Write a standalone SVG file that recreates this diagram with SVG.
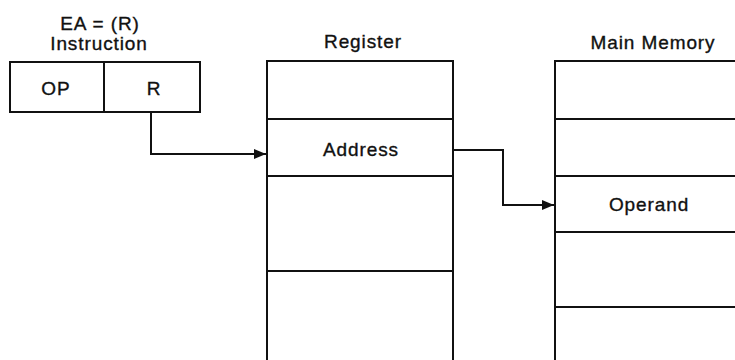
<svg xmlns="http://www.w3.org/2000/svg" width="735" height="360" viewBox="0 0 735 360">
  <style>
    .box { fill: none; stroke: #111; stroke-width: 2; }
    .wire { fill: none; stroke: #111; stroke-width: 2; }
    .lbl { font-family: "Liberation Sans", Arial, sans-serif; font-size: 19px; letter-spacing: 0.9px; fill: #111; stroke: #111; stroke-width: 0.35; text-anchor: middle; }
  </style>
  <defs>
    <marker id="arrow" viewBox="0 0 12 10" refX="12" refY="5" markerWidth="12" markerHeight="10" markerUnits="userSpaceOnUse" orient="auto">
      <path d="M0,0 L12,5 L0,10 Z" fill="#111"/>
    </marker>
  </defs>
  <rect width="735" height="360" fill="#fff"/>

  <g id="instruction">
    <text class="lbl" x="100" y="30">EA = (R)</text>
    <text class="lbl" x="99" y="50">Instruction</text>
    <rect class="box" x="10" y="62" width="190" height="50"/>
    <line class="box" x1="104" y1="62" x2="104" y2="112"/>
    <text class="lbl" x="56" y="95">OP</text>
    <text class="lbl" x="154" y="95">R</text>
  </g>

  <g id="register">
    <text class="lbl" x="363" y="48">Register</text>
    <path class="box" d="M267,361 V61 H453 V361"/>
    <line class="box" x1="267" y1="119" x2="453" y2="119"/>
    <line class="box" x1="267" y1="176" x2="453" y2="176"/>
    <line class="box" x1="267" y1="271" x2="453" y2="271"/>
    <text class="lbl" x="361" y="156">Address</text>
  </g>

  <g id="memory">
    <text class="lbl" x="653" y="49">Main Memory</text>
    <path class="box" d="M555,361 V61 H736"/>
    <line class="box" x1="555" y1="119" x2="736" y2="119"/>
    <line class="box" x1="555" y1="176" x2="736" y2="176"/>
    <line class="box" x1="555" y1="232" x2="736" y2="232"/>
    <line class="box" x1="555" y1="307" x2="736" y2="307"/>
    <text class="lbl" x="649" y="211">Operand</text>
  </g>

  <g id="connectors">
    <path class="wire" d="M151,112 V154 H266" marker-end="url(#arrow)"/>
    <path class="wire" d="M453,150 H503 V205 H554" marker-end="url(#arrow)"/>
  </g>
</svg>
